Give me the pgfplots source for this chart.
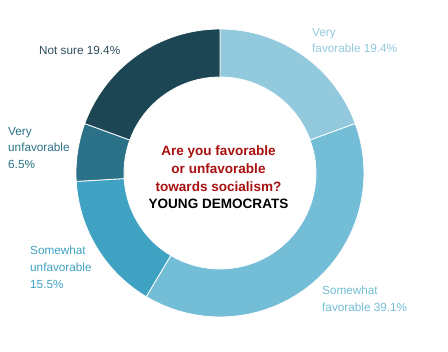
\documentclass[border=0pt]{standalone}
\usepackage{pgfplots}
\pgfplotsset{compat=1.18}
\usepackage{fontspec}
\setmainfont{Liberation Sans}
\definecolor{c1}{HTML}{92C9DD}
\definecolor{c2}{HTML}{74BDD6}
\definecolor{c3}{HTML}{3FA2C3}
\definecolor{c4}{HTML}{2B7289}
\definecolor{c5}{HTML}{1D4655}
\definecolor{t5}{HTML}{2C4D5B}
\definecolor{titlered}{HTML}{A8100F}
% slice: #1 cumulative percent before, #2 value, #3 colour
\newcommand{\slice}[3]{%
  \addplot[fill=#3, draw=white, line width=0.8bp, variable=\t,
    samples at={0,0.025,...,0.975,1,1.00001,1.025,1.05,...,1.975,2}]
  ({((\t<=1) ? 144 : 96)*cos((\t<=1) ? (90-360*#1/99.9) + ((90-360*(#1+#2)/99.9)-(90-360*#1/99.9))*\t : (90-360*(#1+#2)/99.9) - ((90-360*(#1+#2)/99.9)-(90-360*#1/99.9))*(\t-1))},
   {((\t<=1) ? 144 : 96)*sin((\t<=1) ? (90-360*#1/99.9) + ((90-360*(#1+#2)/99.9)-(90-360*#1/99.9))*\t : (90-360*(#1+#2)/99.9) - ((90-360*(#1+#2)/99.9)-(90-360*#1/99.9))*(\t-1))}) -- cycle;
}
\begin{document}
\begin{tikzpicture}
\begin{axis}[
  x=1bp, y=1bp,
  xmin=-220, xmax=228, ymin=-178, ymax=173,
  hide axis, clip=false,
]
\path (rel axis cs:0,0) (rel axis cs:1,1);
% values (percent): Very favorable 19.4, Somewhat favorable 39.1,
% Somewhat unfavorable 15.5, Very unfavorable 6.5, Not sure 19.4
\slice{0}{19.4}{c1}
\slice{19.4}{39.1}{c2}
\slice{58.5}{15.5}{c3}
\slice{74.0}{6.5}{c4}
\slice{80.5}{19.4}{c5}
\begin{scope}[font=\fontsize{11.8}{17}\selectfont, every node/.style={inner sep=0pt}]
\node[anchor=west, align=left, text=c1] at (axis cs:92,132.5) {Very\\favorable 19.4\%};
\node[anchor=west, align=left, text=c2] at (axis cs:102,-126) {Somewhat\\favorable 39.1\%};
\node[anchor=west, align=left, text=c3] at (axis cs:-190,-94) {Somewhat\\unfavorable\\15.5\%};
\node[anchor=west, align=left, text=c4] at (axis cs:-212,25) {Very\\unfavorable\\6.5\%};
\node[anchor=west, align=left, text=t5] at (axis cs:-181,123) {Not sure 19.4\%};
\end{scope}
\node[align=center, font=\fontsize{13.6}{17.7}\selectfont\bfseries] at (axis cs:-1.5,-4.5)
  {\textcolor{titlered}{Are you favorable}\\\textcolor{titlered}{or unfavorable}\\\textcolor{titlered}{towards socialism?}\\YOUNG DEMOCRATS};
\end{axis}
\end{tikzpicture}
\end{document}
